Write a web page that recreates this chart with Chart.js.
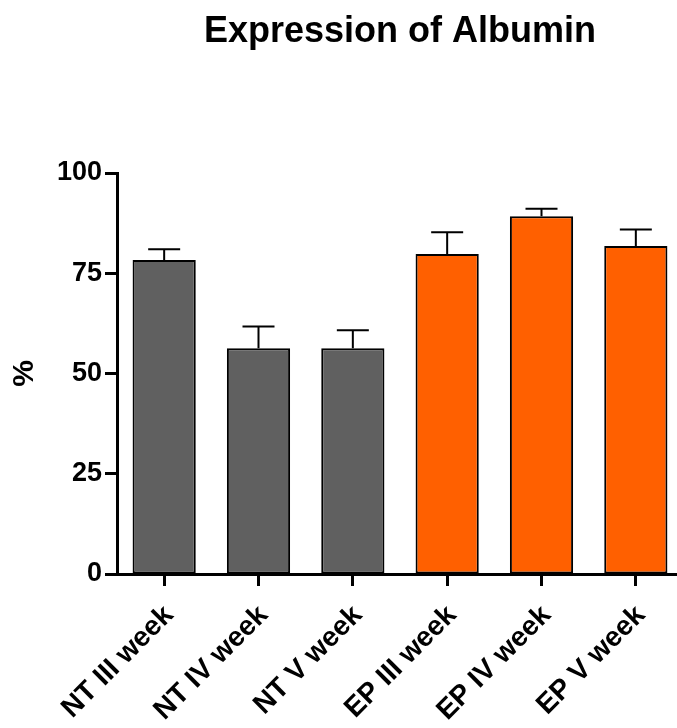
<!DOCTYPE html>
<html lang="en">

<head>
    <meta charset="UTF-8">
    <title>Expression of Albumin</title>
    <script src="https://cdn.jsdelivr.net/npm/chart.js"></script>
    <style>
        html, body { margin: 0; padding: 0; background: #fff; overflow: hidden; }
        canvas { display: block; }
    </style>
</head>

<body>
    <canvas id="albuminChart" width="683" height="728"></canvas>

    <script>
        // Groups, mean values and SEM (upper error only)
        var groups = ['NT III week', 'NT IV week', 'NT V week', 'EP III week', 'EP IV week', 'EP V week'];
        var means = [78.3, 56.3, 56.3, 79.8, 89.2, 81.8];
        var sem = [2.7, 5.4, 4.5, 5.4, 1.9, 4.1];
        var barColors = ['#606060', '#606060', '#606060', '#ff6000', '#ff6000', '#ff6000'];
        var yTicks = [0, 25, 50, 75, 100];

        var boldFont = 'Liberation Sans, Arial, Helvetica, sans-serif';

        // Title centred over the plot area
        var titlePlugin = {
            id: 'plotTitle',
            afterDraw: function (chart) {
                var ctx = chart.ctx;
                var area = chart.chartArea;
                ctx.save();
                ctx.font = 'bold 36px ' + boldFont;
                ctx.fillStyle = '#000';
                ctx.textAlign = 'center';
                ctx.textBaseline = 'alphabetic';
                ctx.fillText('Expression of Albumin', (area.left + area.right) / 2, 42);
                ctx.restore();
            }
        };

        // Upper error bars with a cap
        var errorBarPlugin = {
            id: 'errorBars',
            afterDatasetsDraw: function (chart) {
                var ctx = chart.ctx;
                var yScale = chart.scales.y;
                var bars = chart.getDatasetMeta(0).data;
                ctx.save();
                ctx.strokeStyle = '#000';
                ctx.lineWidth = 2;
                bars.forEach(function (bar, i) {
                    var yBase = yScale.getPixelForValue(means[i]);
                    var yTop = yScale.getPixelForValue(means[i] + sem[i]);
                    ctx.beginPath();
                    ctx.moveTo(bar.x, yBase);
                    ctx.lineTo(bar.x, yTop);
                    ctx.moveTo(bar.x - 16, yTop);
                    ctx.lineTo(bar.x + 16, yTop);
                    ctx.stroke();
                });
                ctx.restore();
            }
        };

        var ctx = document.getElementById('albuminChart').getContext('2d');

        var albuminChart = new Chart(ctx, {
            type: 'bar',
            data: {
                labels: groups,
                datasets: [{
                    data: means,
                    backgroundColor: barColors,
                    borderColor: '#000',
                    borderWidth: 2,
                    borderSkipped: false,
                    barPercentage: 0.67,
                    categoryPercentage: 1.0
                }]
            },
            options: {
                responsive: false,
                animation: false,
                layout: {
                    padding: { top: 173, left: 0, right: 0, bottom: 0 }
                },
                plugins: {
                    legend: { display: false },
                    tooltip: { enabled: false }
                },
                scales: {
                    x: {
                        grid: {
                            offset: false,
                            drawOnChartArea: false,
                            drawTicks: true,
                            tickLength: 12,
                            tickWidth: 3,
                            color: '#000'
                        },
                        border: { display: true, width: 3, color: '#000' },
                        ticks: {
                            color: '#000',
                            font: { family: boldFont, size: 28, weight: 'bold' },
                            minRotation: 45,
                            maxRotation: 45,
                            padding: 13,
                            labelOffset: 5
                        },
                        afterFit: function (scale) { scale.height = 154; }
                    },
                    y: {
                        min: 0,
                        max: 100,
                        afterBuildTicks: function (scale) {
                            scale.ticks = yTicks.map(function (v) { return { value: v }; });
                        },
                        grid: {
                            drawOnChartArea: false,
                            drawTicks: true,
                            tickLength: 12,
                            tickWidth: 3,
                            color: '#000'
                        },
                        border: { display: true, width: 3, color: '#000' },
                        ticks: {
                            color: '#000',
                            font: { family: boldFont, size: 27, weight: 'bold' },
                            padding: 3
                        },
                        title: {
                            display: true,
                            text: '%',
                            color: '#000',
                            font: { family: boldFont, size: 30, weight: 'bold' },
                            padding: { top: 7, bottom: 0 }
                        },
                        afterFit: function (scale) { scale.width = 117; }
                    }
                }
            },
            plugins: [titlePlugin, errorBarPlugin]
        });
    </script>
</body>

</html>
